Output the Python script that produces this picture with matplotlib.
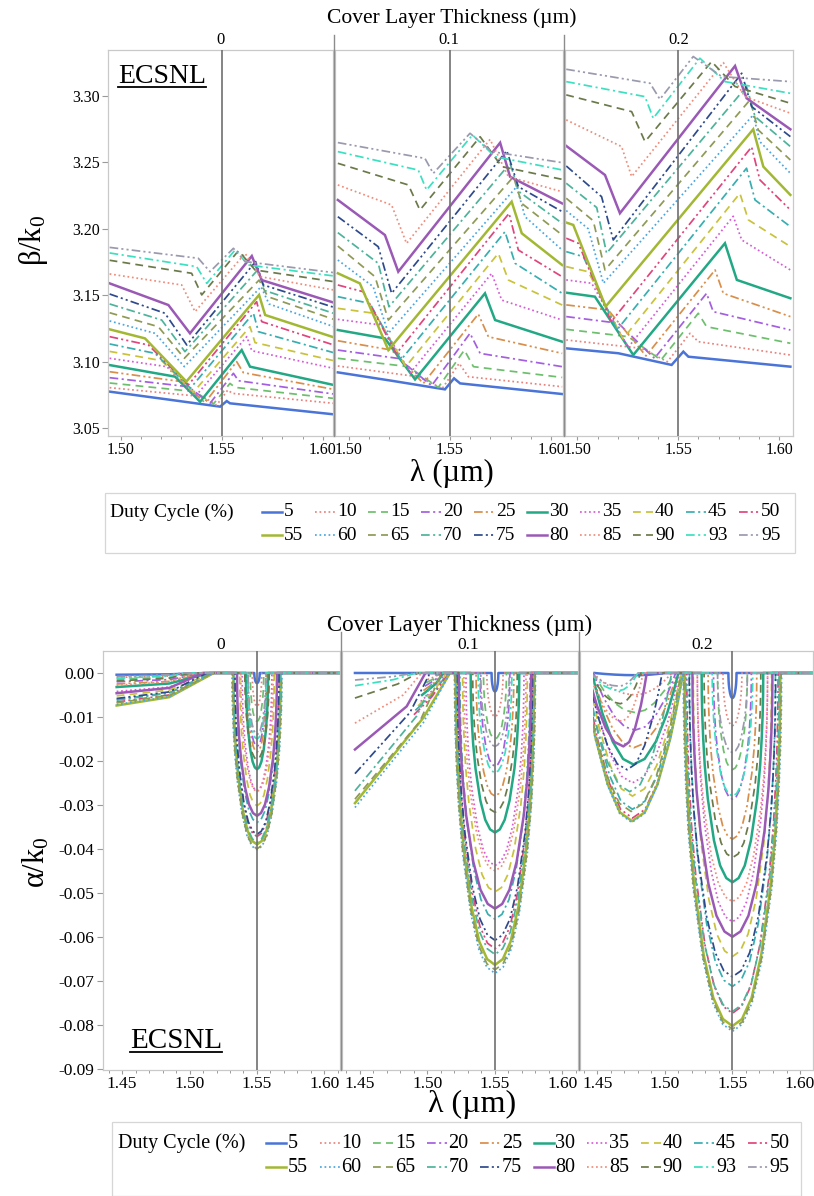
import matplotlib
matplotlib.use("Agg")
import matplotlib.pyplot as plt
from matplotlib.lines import Line2D
from matplotlib.patches import Rectangle
from matplotlib.ticker import MultipleLocator, FormatStrFormatter

plt.rcParams['font.family'] = ['Liberation Serif', 'DejaVu Serif']
plt.rcParams['mathtext.fontset'] = 'custom'
plt.rcParams['mathtext.rm'] = 'Liberation Serif'
plt.rcParams['mathtext.it'] = 'Liberation Serif:italic'
plt.rcParams['axes.unicode_minus'] = False

# ---------------------------------------------------------------- series
DUTY_CYCLES = [5, 10, 15, 20, 25, 30, 35, 40, 45, 50, 55, 60, 65, 70, 75, 80, 85, 90, 93, 95]
COVER_LABELS = ['0', '0.1', '0.2']
COLORS = ['#4a74d8', '#e8837c', '#6dbf6d', '#a45ee0', '#d98e4a',
          '#22a884', '#d65bd6', '#c9c23a', '#38aeb0', '#e0457b',
          '#a2b832', '#4aa6e0', '#8e9a55', '#4db39a', '#2e4a8c',
          '#9b59b6', '#f08c7a', '#6b7a4a', '#3ce0c0', '#9a9aae']
STYLE_NAMES = ['solid', 'dotted', 'dashed', 'dashdot', 'dashdotdot',
               'solid', 'dotted', 'dashed', 'dashdot', 'dashdotdot',
               'solid', 'dotted', 'dashed', 'dashdot', 'dashdotdot',
               'solid', 'dotted', 'dashed', 'dashdot', 'dashdotdot']

BRAGG_WL = 1.55

# ---- beta/k0 : key points of each curve (start, knee, cusp, peak, post-peak, end)
TOP_X_START = 1.4945
TOP_X_END = 1.6055

T0_Y0 = [3.0774, 3.0804, 3.0839, 3.0879, 3.0924, 3.0974, 3.1025, 3.1077, 3.1133, 3.1188, 3.1243, 3.1306, 3.1368, 3.1434, 3.1509, 3.1589, 3.1660, 3.1763, 3.1818, 3.1860]
T0_KX = [1.5228, 1.5409, 1.5368, 1.5335, 1.5302, 1.5269, 1.5228, 1.5203, 1.5170, 1.5137, 1.5120, 1.5170, 1.5186, 1.5203, 1.5219, 1.5236, 1.5302, 1.5351, 1.5376, 1.5384]
T0_KY = [3.0716, 3.0736, 3.0774, 3.0811, 3.0849, 3.0887, 3.0962, 3.1007, 3.1062, 3.1125, 3.1175, 3.1213, 3.1263, 3.1313, 3.1364, 3.1426, 3.1577, 3.1665, 3.1715, 3.1778]
T0_CX = [1.5492, 1.5475, 1.5459, 1.5442, 1.5417, 1.5393, 1.5370, 1.5360, 1.5345, 1.5335, 1.5325, 1.5315, 1.5315, 1.5318, 1.5327, 1.5343, 1.5368, 1.5401, 1.5426, 1.5442]
T0_CY = [3.0661, 3.0673, 3.0681, 3.0686, 3.0691, 3.0698, 3.0740, 3.0770, 3.0800, 3.0825, 3.0850, 3.0962, 3.1025, 3.1075, 3.1125, 3.1213, 3.1376, 3.1502, 3.1589, 3.1677]
T0_PX = [1.5525, 1.5530, 1.5541, 1.5558, 1.5574, 1.5599, 1.5624, 1.5640, 1.5657, 1.5673, 1.5685, 1.5695, 1.5685, 1.5678, 1.5668, 1.5649, 1.5616, 1.5583, 1.5566, 1.5558]
T0_PY = [3.0703, 3.0786, 3.0836, 3.0912, 3.1000, 3.1087, 3.1188, 3.1263, 3.1364, 3.1451, 3.1502, 3.1564, 3.1614, 3.1690, 3.1753, 3.1795, 3.1815, 3.1835, 3.1840, 3.1853]
T0_QX = [1.5541, 1.5553, 1.5566, 1.5583, 1.5607, 1.5640, 1.5649, 1.5665, 1.5682, 1.5698, 1.5715, 1.5734, 1.5728, 1.5715, 1.5706, 1.5698, 1.5690, 1.5665, 1.5632, 1.5616]
T0_QY = [3.0686, 3.0761, 3.0806, 3.0856, 3.0917, 3.0962, 3.1082, 3.1143, 3.1225, 3.1301, 3.1351, 3.1434, 3.1489, 3.1534, 3.1577, 3.1614, 3.1640, 3.1690, 3.1727, 3.1753]
T0_YE = [3.0603, 3.0686, 3.0723, 3.0756, 3.0791, 3.0824, 3.0949, 3.1007, 3.1067, 3.1125, 3.1183, 3.1263, 3.1318, 3.1363, 3.1409, 3.1444, 3.1539, 3.1602, 3.1645, 3.1670]

T1_Y0 = [3.0919, 3.0967, 3.1025, 3.1087, 3.1157, 3.1238, 3.1318, 3.1401, 3.1489, 3.1577, 3.1665, 3.1765, 3.1870, 3.1971, 3.2091, 3.2217, 3.2330, 3.2493, 3.2581, 3.2649]
T1_KX = [1.5211, 1.5343, 1.5294, 1.5244, 1.5211, 1.5178, 1.5162, 1.5129, 1.5104, 1.5071, 1.5054, 1.5120, 1.5129, 1.5145, 1.5145, 1.5178, 1.5211, 1.5294, 1.5343, 1.5376]
T1_KY = [3.0856, 3.0886, 3.0962, 3.1024, 3.1087, 3.1175, 3.1275, 3.1363, 3.1438, 3.1526, 3.1589, 3.1564, 3.1639, 3.1740, 3.1865, 3.1953, 3.2179, 3.2330, 3.2442, 3.2530]
T1_CX = [1.5475, 1.5462, 1.5442, 1.5409, 1.5368, 1.5327, 1.5304, 1.5281, 1.5257, 1.5234, 1.5195, 1.5195, 1.5195, 1.5198, 1.5211, 1.5244, 1.5285, 1.5351, 1.5384, 1.5417]
T1_CY = [3.0791, 3.0798, 3.0806, 3.0819, 3.0836, 3.0866, 3.0916, 3.0962, 3.1012, 3.1059, 3.1087, 3.1213, 3.1313, 3.1413, 3.1514, 3.1677, 3.1890, 3.2141, 3.2292, 3.2417]
T1_PX = [1.5520, 1.5545, 1.5571, 1.5599, 1.5640, 1.5673, 1.5706, 1.5739, 1.5772, 1.5792, 1.5805, 1.5830, 1.5814, 1.5797, 1.5781, 1.5748, 1.5698, 1.5649, 1.5611, 1.5599]
T1_PY = [3.0874, 3.0987, 3.1087, 3.1213, 3.1358, 3.1514, 3.1664, 3.1815, 3.1978, 3.2116, 3.2204, 3.2317, 3.2392, 3.2493, 3.2588, 3.2648, 3.2673, 3.2693, 3.2706, 3.2719]
T1_QX = [1.5550, 1.5591, 1.5616, 1.5649, 1.5690, 1.5723, 1.5756, 1.5789, 1.5822, 1.5838, 1.5855, 1.5871, 1.5855, 1.5842, 1.5838, 1.5797, 1.5789, 1.5756, 1.5723, 1.5706]
T1_QY = [3.0836, 3.0886, 3.0962, 3.1062, 3.1187, 3.1313, 3.1463, 3.1614, 3.1740, 3.1840, 3.1966, 3.2091, 3.2191, 3.2279, 3.2317, 3.2392, 3.2392, 3.2468, 3.2543, 3.2581]
T1_YE = [3.0756, 3.0811, 3.0881, 3.0962, 3.1062, 3.1150, 3.1313, 3.1426, 3.1514, 3.1639, 3.1727, 3.1840, 3.1953, 3.2041, 3.2129, 3.2191, 3.2279, 3.2372, 3.2443, 3.2498]

T2_Y0 = [3.1100, 3.1163, 3.1243, 3.1339, 3.1427, 3.1519, 3.1615, 3.1715, 3.1828, 3.1929, 3.2047, 3.2137, 3.2230, 3.2343, 3.2473, 3.2624, 3.2820, 3.3008, 3.3108, 3.3201]
T2_KX = [1.5203, 1.5318, 1.5252, 1.5203, 1.5153, 1.5087, 1.5071, 1.5054, 1.5030, 1.5005, 1.4980, 1.5054, 1.5079, 1.5096, 1.5120, 1.5137, 1.5219, 1.5269, 1.5335, 1.5360]
T2_KY = [3.1063, 3.1100, 3.1188, 3.1289, 3.1389, 3.1489, 3.1590, 3.1677, 3.1790, 3.1891, 3.2029, 3.2000, 3.2060, 3.2160, 3.2242, 3.2405, 3.2619, 3.2882, 3.2995, 3.3096]
T2_CX = [1.5467, 1.5446, 1.5414, 1.5382, 1.5340, 1.5277, 1.5252, 1.5226, 1.5196, 1.5168, 1.5140, 1.5129, 1.5137, 1.5145, 1.5178, 1.5211, 1.5269, 1.5335, 1.5376, 1.5409]
T2_CY = [3.0975, 3.0999, 3.1012, 3.1025, 3.1043, 3.1050, 3.1108, 3.1171, 3.1238, 3.1301, 3.1414, 3.1590, 3.1690, 3.1816, 3.1916, 3.2117, 3.2393, 3.2656, 3.2832, 3.2975]
T2_PX = [1.5525, 1.5558, 1.5599, 1.5640, 1.5682, 1.5731, 1.5772, 1.5805, 1.5838, 1.5863, 1.5871, 1.5871, 1.5855, 1.5838, 1.5814, 1.5781, 1.5723, 1.5665, 1.5607, 1.5574]
T2_PY = [3.1075, 3.1213, 3.1364, 3.1514, 3.1690, 3.1891, 3.2094, 3.2267, 3.2456, 3.2616, 3.2749, 3.2857, 3.2970, 3.3071, 3.3171, 3.3226, 3.3251, 3.3259, 3.3284, 3.3297]
T2_QX = [1.5550, 1.5599, 1.5640, 1.5673, 1.5723, 1.5790, 1.5814, 1.5847, 1.5880, 1.5904, 1.5921, 1.5904, 1.5896, 1.5880, 1.5863, 1.5838, 1.5830, 1.5781, 1.5731, 1.5715]
T2_QY = [3.1037, 3.1150, 3.1263, 3.1376, 3.1514, 3.1615, 3.1916, 3.2067, 3.2217, 3.2368, 3.2468, 3.2656, 3.2744, 3.2845, 3.2920, 3.2983, 3.2995, 3.3071, 3.3108, 3.3146]
T2_YE = [3.0962, 3.1050, 3.1138, 3.1238, 3.1339, 3.1477, 3.1690, 3.1866, 3.2016, 3.2142, 3.2255, 3.2418, 3.2518, 3.2619, 3.2694, 3.2749, 3.2870, 3.2945, 3.3020, 3.3108]

# ---- alpha/k0 : stop band at the Bragg wavelength (depth, half width)
B0_DEPTH = [0.0023, 0.0076, 0.0110, 0.0167, 0.0180, 0.0219, 0.0268, 0.0302, 0.0340, 0.0372, 0.0390, 0.0402, 0.0400, 0.0385, 0.0367, 0.0325, 0.0270, 0.0197, 0.0150, 0.0140]
B0_HALFW = [0.0020, 0.0035, 0.0050, 0.0068, 0.0074, 0.0082, 0.0110, 0.0128, 0.0150, 0.0165, 0.0175, 0.0185, 0.0182, 0.0172, 0.0163, 0.0148, 0.0120, 0.0090, 0.0070, 0.0065]
B1_DEPTH = [0.0042, 0.0099, 0.0150, 0.0212, 0.0280, 0.0363, 0.0438, 0.0498, 0.0560, 0.0627, 0.0664, 0.0683, 0.0675, 0.0640, 0.0608, 0.0536, 0.0450, 0.0317, 0.0227, 0.0167]
B1_HALFW = [0.0025, 0.0060, 0.0085, 0.0110, 0.0140, 0.0180, 0.0215, 0.0240, 0.0260, 0.0278, 0.0290, 0.0300, 0.0298, 0.0285, 0.0278, 0.0268, 0.0230, 0.0165, 0.0125, 0.0105]
B2_DEPTH = [0.0057, 0.0120, 0.0220, 0.0287, 0.0378, 0.0476, 0.0566, 0.0645, 0.0713, 0.0774, 0.0803, 0.0815, 0.0810, 0.0770, 0.0691, 0.0600, 0.0520, 0.0420, 0.0280, 0.0181]
B2_HALFW = [0.0030, 0.0070, 0.0110, 0.0140, 0.0180, 0.0228, 0.0260, 0.0290, 0.0318, 0.0338, 0.0354, 0.0364, 0.0360, 0.0345, 0.0320, 0.0296, 0.0260, 0.0210, 0.0150, 0.0110]
# normalised stop-band profile (position / half width, alpha / depth)
U_PROF_U = [-1, -0.995, -0.98, -0.95, -0.9, -0.8, -0.6, -0.4, -0.2, 0, 0.2, 0.4, 0.6, 0.8, 0.9, 0.95, 0.98, 0.995, 1]
U_PROF_V = [0, 0.10, 0.20, 0.31, 0.44, 0.60, 0.80, 0.92, 0.98, 1, 0.98, 0.92, 0.80, 0.60, 0.44, 0.31, 0.20, 0.10, 0]

# ---- short-wavelength loss wedges, cover 0 and 0.1 (start, knee, zero crossing)
B0_WS = [1.446, 1.446, 1.446, 1.446, 1.446, 1.446, 1.446, 1.446, 1.446, 1.446, 1.446, 1.446, 1.446, 1.446, 1.446, 1.446, 1.446, 1.446, 1.446, 1.446]
B0_A0 = [-0.0004, -0.0010, -0.0014, -0.0020, -0.0025, -0.0032, -0.0042, -0.0052, -0.0060, -0.0066, -0.0074, -0.0072, -0.0068, -0.0062, -0.0058, -0.0046, -0.0028, -0.0018, -0.0012, -0.0008]
B0_WK = [1.485, 1.485, 1.485, 1.485, 1.485, 1.485, 1.485, 1.485, 1.485, 1.485, 1.485, 1.485, 1.485, 1.485, 1.485, 1.485, 1.485, 1.485, 1.485, 1.485]
B0_A1 = [-0.0003, -0.0007, -0.0010, -0.0015, -0.0019, -0.0024, -0.0032, -0.0039, -0.0045, -0.0050, -0.0055, -0.0054, -0.0051, -0.0046, -0.0043, -0.0034, -0.0020, -0.0012, -0.0007, -0.0004]
B0_WZ = [1.512, 1.510, 1.512, 1.513, 1.514, 1.515, 1.516, 1.517, 1.518, 1.518, 1.518, 1.518, 1.517, 1.515, 1.513, 1.510, 1.505, 1.500, 1.497, 1.495]

B1_WS = [1.4463, 1.5000, 1.4990, 1.4980, 1.4970, 1.4960, 1.4950, 1.4930, 1.4910, 1.4900, 1.4463, 1.4463, 1.4463, 1.4463, 1.4463, 1.4463, 1.4463, 1.4463, 1.4463, 1.4463]
B1_A0 = [0.0, -0.0015, -0.0022, -0.0030, -0.0040, -0.0050, -0.0065, -0.0075, -0.0085, -0.0095, -0.0296, -0.0306, -0.0287, -0.0268, -0.0229, -0.0174, -0.0114, -0.0057, -0.0029, -0.0016]
B1_WK = [1.4800, 1.5060, 1.5060, 1.5060, 1.5060, 1.5060, 1.5060, 1.5050, 1.5040, 1.5030, 1.4969, 1.4969, 1.4944, 1.4920, 1.4870, 1.4846, 1.4820, 1.4780, 1.4750, 1.4750]
B1_A1 = [0.0, -0.0008, -0.0011, -0.0015, -0.0020, -0.0025, -0.0033, -0.0040, -0.0048, -0.0055, -0.0102, -0.0113, -0.0110, -0.0098, -0.0090, -0.0076, -0.0050, -0.0025, -0.0015, -0.0008]
B1_WZ = [1.4900, 1.5080, 1.5090, 1.5100, 1.5110, 1.5120, 1.5130, 1.5140, 1.5150, 1.5160, 1.5167, 1.5167, 1.5105, 1.5068, 1.5019, 1.4985, 1.4956, 1.4931, 1.4919, 1.4907]

# ---- second loss band, cover 0.2 (centre, depth, left / right half widths)
B2_VM = [1.478, 1.478, 1.478, 1.478, 1.477, 1.4767, 1.476, 1.476, 1.476, 1.476, 1.4757, 1.4755, 1.475, 1.474, 1.472, 1.4693, 1.468, 1.467, 1.466, 1.466]
B2_VD = [0.0005, 0.0050, 0.0090, 0.0130, 0.0170, 0.0208, 0.0250, 0.0280, 0.0310, 0.0330, 0.0337, 0.0340, 0.0315, 0.0270, 0.0220, 0.0167, 0.0110, 0.0070, 0.0040, 0.0030]
B2_VWL = [0.030, 0.031, 0.031, 0.031, 0.031, 0.0306, 0.032, 0.033, 0.034, 0.035, 0.036, 0.036, 0.035, 0.033, 0.029, 0.0262, 0.024, 0.022, 0.021, 0.021]
B2_VWR = [0.022, 0.027, 0.029, 0.030, 0.032, 0.0333, 0.035, 0.036, 0.037, 0.0375, 0.0378, 0.038, 0.037, 0.031, 0.026, 0.0173, 0.016, 0.015, 0.014, 0.013]
V_PROF_U = [-1, -0.9, -0.75, -0.5, -0.25, 0, 0.25, 0.5, 0.75, 0.9, 1]
V_PROF_V = [0, 0.19, 0.44, 0.75, 0.94, 1, 0.94, 0.75, 0.44, 0.19, 0]
B2_CLIP_LEFT = 1.447
BOT_X_END = 1.615

TOP_YTICKS = [3.05, 3.10, 3.15, 3.20, 3.25, 3.30]
BOT_YTICKS = [0.00, -0.01, -0.02, -0.03, -0.04, -0.05, -0.06, -0.07, -0.08, -0.09]

# ---------------------------------------------------------------- styling
DASHES = {'solid': '-', 'dotted': (0, (1, 1.6)), 'dashed': (0, (4.5, 3)),
          'dashdot': (0, (5, 2, 1.2, 2)), 'dashdotdot': (0, (5, 1.8, 1.2, 1.8, 1.2, 1.8))}

def lstyle(i):
    name = STYLE_NAMES[i]
    return dict(color=COLORS[i], linestyle=DASHES[name], lw=1.8 if name == 'solid' else 1.25)

W, H = 814, 1196
fig = plt.figure(figsize=(W / 100, H / 100), dpi=100)

def add_ax(l, r, t, b):
    return fig.add_axes([l / W, 1 - b / H, (r - l) / W, (b - t) / H])

def fline(x0, y0, x1, y1, **kw):
    fig.add_artist(Line2D([x0 / W, x1 / W], [1 - y0 / H, 1 - y1 / H], transform=fig.transFigure, **kw))

SPINE_C = '#c9c9c9'
TICK_C = '#9a9a9a'

def style_axes(ax, xlim, ylim, first, yfmt, ytick_vals, fs):
    ax.set_xlim(*xlim)
    ax.set_ylim(*ylim)
    for sp in ax.spines.values():
        sp.set_color(SPINE_C)
        sp.set_linewidth(0.9)
    ax.xaxis.set_major_locator(MultipleLocator(0.05))
    ax.xaxis.set_minor_locator(MultipleLocator(0.01))
    ax.xaxis.set_major_formatter(FormatStrFormatter('%.2f'))
    ax.tick_params(axis='x', which='major', direction='out', length=3, width=0.8,
                   color=TICK_C, labelsize=fs, pad=1)
    ax.tick_params(axis='x', which='minor', direction='out', length=2, width=0.7, color=TICK_C)
    ax.set_yticks(ytick_vals)
    if first:
        ax.yaxis.set_major_formatter(FormatStrFormatter(yfmt))
        ax.tick_params(axis='y', direction='out', length=4, width=0.8, color=TICK_C,
                       labelsize=fs, pad=2)
    else:
        ax.tick_params(axis='y', left=False, labelleft=False)
    ax.axvline(BRAGG_WL, color='#707070', lw=1.2, zorder=3)

# ---------------------------------------------------------------- top chart
TOP_PANELS = [(108, 333), (335, 563), (565, 793)]
TOP_T, TOP_B = 50, 436
TOP_XLIM = [(1.4937, 1.6051), (1.4931, 1.6059), (1.4939, 1.6068)]
TOP_YLIM = (3.044, 3.3346)
TOP_DATA = [
    (T0_Y0, T0_KX, T0_KY, T0_CX, T0_CY, T0_PX, T0_PY, T0_QX, T0_QY, T0_YE),
    (T1_Y0, T1_KX, T1_KY, T1_CX, T1_CY, T1_PX, T1_PY, T1_QX, T1_QY, T1_YE),
    (T2_Y0, T2_KX, T2_KY, T2_CX, T2_CY, T2_PX, T2_PY, T2_QX, T2_QY, T2_YE),
]
for p, (l, r) in enumerate(TOP_PANELS):
    ax = add_ax(l, r, TOP_T, TOP_B)
    y0, kx, ky, cx, cy, px, py, qx, qy, ye = TOP_DATA[p]
    for i in range(len(DUTY_CYCLES)):
        xs = [TOP_X_START, kx[i], cx[i], px[i], qx[i], TOP_X_END]
        ys = [y0[i], ky[i], cy[i], py[i], qy[i], ye[i]]
        ax.plot(xs, ys, zorder=2, solid_joinstyle='miter', **lstyle(i))
    style_axes(ax, TOP_XLIM[p], TOP_YLIM, p == 0, '%.2f', TOP_YTICKS, 11.5)
    fig.text(((l + r) / 2) / W, 1 - 40 / H, COVER_LABELS[p], ha='center', va='center', fontsize=12)

for xs in (334, 564):
    fline(xs, 35, xs, TOP_B, color='#8c8c8c', lw=1.0)
fig.text(452 / W, 1 - 18 / H, 'Cover Layer Thickness (µm)', ha='center', va='center', fontsize=15.5)
fig.text(452 / W, 1 - 473 / H, 'λ (µm)', ha='center', va='center', fontsize=22)
fig.text(33 / W, 1 - 240 / H, 'β/k$_0$', ha='center', va='center', fontsize=22, rotation=90)
ecs_top = fig.text(118 / W, 1 - 64 / H, 'ECSNL', ha='left', va='top', fontsize=20)

# ---------------------------------------------------------------- bottom chart
BOT_PANELS = [(103, 340), (342, 578), (580, 813)]
BOT_T, BOT_B = 651, 1070
BOT_XLIM = [(1.4359, 1.6115), (1.4367, 1.6115), (1.4372, 1.6096)]
BOT_YLIM = (-0.0903, 0.005)
BOT_DEPTHS = [B0_DEPTH, B1_DEPTH, B2_DEPTH]
BOT_HALFW = [B0_HALFW, B1_HALFW, B2_HALFW]
WEDGES = [(B0_WS, B0_A0, B0_WK, B0_A1, B0_WZ), (B1_WS, B1_A0, B1_WK, B1_A1, B1_WZ)]
BOT_HEAD_X = [221, 468, 702]

for p, (l, r) in enumerate(BOT_PANELS):
    ax = add_ax(l, r, BOT_T, BOT_B)
    for i in range(len(DUTY_CYCLES)):
        if p < 2:
            ws, a0, wk, a1, wz = WEDGES[p]
            xs = [ws[i], wk[i], wz[i]]
            ys = [a0[i], a1[i], 0.0]
        else:
            xs = [B2_VM[i] + u * (B2_VWL[i] if u < 0 else B2_VWR[i]) for u in V_PROF_U]
            ys = [-B2_VD[i] * v for v in V_PROF_V]
        d = BOT_DEPTHS[p][i]
        w = BOT_HALFW[p][i]
        xs += [BRAGG_WL + u * w for u in U_PROF_U] + [BOT_X_END]
        ys += [-d * v for v in U_PROF_V] + [0.0]
        ln, = ax.plot(xs, ys, zorder=2, **lstyle(i))
        if p == 2:
            clip = Rectangle((B2_CLIP_LEFT, -1), 1.0, 2.0, transform=ax.transData)
            ln.set_clip_path(clip)
    style_axes(ax, BOT_XLIM[p], BOT_YLIM, p == 0, '%.2f', BOT_YTICKS, 12.5)
    fig.text(BOT_HEAD_X[p] / W, 1 - 645 / H, COVER_LABELS[p], ha='center', va='center', fontsize=12.5)

for xs in (341, 579):
    fline(xs, 632, xs, BOT_B, color='#8c8c8c', lw=1.0)
fig.text(460 / W, 1 - 625 / H, 'Cover Layer Thickness (µm)', ha='center', va='center', fontsize=16.5)
fig.text(472 / W, 1 - 1104 / H, 'λ (µm)', ha='center', va='center', fontsize=23)
fig.text(36 / W, 1 - 862 / H, 'α/k$_0$', ha='center', va='center', fontsize=22, rotation=90)
ecs_bot = fig.text(130 / W, 1 - 1028 / H, 'ECSNL', ha='left', va='top', fontsize=21)

# ---------------------------------------------------------------- legends
def draw_legend(box, title_xy, row_y, x0, pitch, fs):
    bx0, by0, bx1, by1 = box
    fig.add_artist(Rectangle((bx0 / W, 1 - by1 / H), (bx1 - bx0) / W, (by1 - by0) / H,
                             transform=fig.transFigure, fill=False, ec='#d6d6d6', lw=0.9))
    fig.text(title_xy[0] / W, 1 - title_xy[1] / H, 'Duty Cycle (%)', ha='left', va='center', fontsize=fs)
    for i, dc in enumerate(DUTY_CYCLES):
        row, col = divmod(i, 10)
        xl = x0 + pitch * col
        yl = row_y[row]
        st = lstyle(i)
        fline(xl, yl, xl + 20, yl, color=st['color'], linestyle=st['linestyle'], lw=st['lw'])
        fig.text((xl + 22) / W, 1 - yl / H, str(dc), ha='left', va='center', fontsize=fs)

draw_legend((105, 493, 795, 553), (110, 512), (512, 535), 262, 53, 14)
draw_legend((112, 1122, 801, 1196), (118, 1143), (1143, 1167), 266, 53.5, 14.5)

# underline ECSNL
fig.canvas.draw()
rend = fig.canvas.get_renderer()
for t in (ecs_top, ecs_bot):
    bb = t.get_window_extent(rend)
    yline = bb.y0 + 2
    fig.add_artist(Line2D([bb.x0 / W, bb.x1 / W], [yline / H, yline / H],
                          transform=fig.transFigure, color='black', lw=1.3))

fig.savefig('out.png', dpi=100)
